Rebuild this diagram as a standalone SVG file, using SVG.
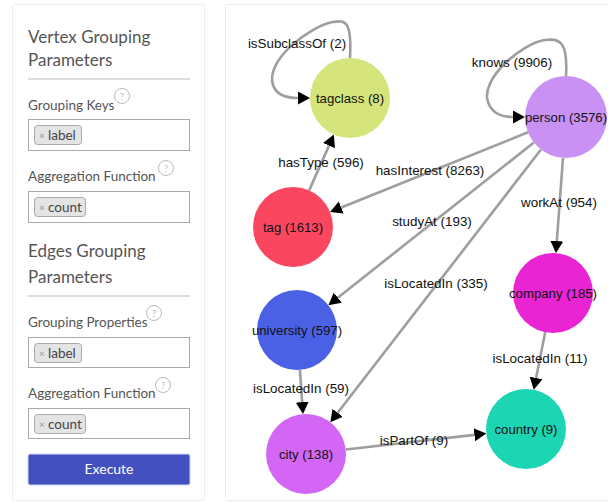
<svg xmlns="http://www.w3.org/2000/svg" width="608" height="502" viewBox="0 0 608 502">
<style>
.card{fill:#fff;stroke:#ececec;stroke-width:1}
.title{font-family:Lato,"Noto Sans",sans-serif;font-size:17px;fill:#555}
.lbl{font-family:Lato,"Noto Sans",sans-serif;font-size:13.5px;fill:#555}
.div{stroke:#bbb;stroke-width:1.2}
.box{fill:#fff;stroke:#aaa;stroke-width:1}
.chip{fill:#e4e4e4;stroke:#aaa;stroke-width:1}
.chipx{font-family:Lato,"Noto Sans",sans-serif;font-size:10px;fill:#999}
.chipt{font-family:Lato,"Noto Sans",sans-serif;font-size:13.5px;fill:#444}
.help{fill:#fff;stroke:#bbb;stroke-width:1}
.helpq{font-family:Lato,"Noto Sans",sans-serif;font-size:9px;fill:#bbb;text-anchor:middle}
.edge{fill:none;stroke:#9e9e9e;stroke-width:2.6;marker-end:url(#arr)}
.el{font-family:"Liberation Sans",Arial,sans-serif;font-size:13.4px;fill:#111;text-anchor:middle}
.nl{font-family:"Liberation Sans",Arial,sans-serif;font-size:13.2px;fill:#111;text-anchor:middle}
</style>
<defs>
<marker id="arr" markerUnits="userSpaceOnUse" markerWidth="14" markerHeight="14" viewBox="0 -7 14 14" refX="0" refY="0" orient="auto">
<path d="M0,-6.5 L12,0 L0,6.5 z" fill="#000"/>
</marker>
</defs>
<rect x="0" y="0" width="608" height="502" fill="#fff"/>

<g id="panel-left">
<rect class="card" x="12.5" y="4.5" width="192" height="496" rx="2"/>
<text class="title" x="28" y="43">Vertex Grouping</text>
<text class="title" x="28" y="66">Parameters</text>
<line class="div" x1="28" y1="79" x2="190" y2="79"/>
<text class="lbl" x="28" y="110">Grouping Keys</text>
<circle class="help" cx="122" cy="96" r="7.5"/><text class="helpq" x="122" y="99.5">?</text>
<rect class="box" x="28.5" y="119.5" width="161" height="31"/>
<rect class="chip" x="34.5" y="125.5" width="47" height="19" rx="3"/>
<text class="chipx" x="39" y="138.5">×</text><text class="chipt" x="48" y="140">label</text>
<text class="lbl" x="28" y="181">Aggregation Function</text>
<circle class="help" cx="166" cy="168" r="7.5"/><text class="helpq" x="166" y="171.5">?</text>
<rect class="box" x="28.5" y="191.5" width="161" height="31"/>
<rect class="chip" x="34.5" y="197.5" width="51" height="19" rx="3"/>
<text class="chipx" x="39" y="210.5">×</text><text class="chipt" x="48" y="212">count</text>

<text class="title" x="28" y="257">Edges Grouping</text>
<text class="title" x="28" y="283">Parameters</text>
<line class="div" x1="28" y1="296" x2="190" y2="296"/>
<text class="lbl" x="28" y="327">Grouping Properties</text>
<circle class="help" cx="154" cy="313" r="7.5"/><text class="helpq" x="154" y="316.5">?</text>
<rect class="box" x="28.5" y="337.5" width="161" height="30"/>
<rect class="chip" x="34.5" y="343.5" width="47" height="19" rx="3"/>
<text class="chipx" x="39" y="356.5">×</text><text class="chipt" x="48" y="358">label</text>
<text class="lbl" x="28" y="398">Aggregation Function</text>
<circle class="help" cx="163" cy="385" r="7.5"/><text class="helpq" x="163" y="388.5">?</text>
<rect class="box" x="28.5" y="408.5" width="161" height="30"/>
<rect class="chip" x="34.5" y="414.5" width="51" height="19" rx="3"/>
<text class="chipx" x="39" y="427.5">×</text><text class="chipt" x="48" y="429">count</text>

<rect x="28" y="454" width="162" height="31" rx="2" fill="#4351c0" stroke="#d3d6f4" stroke-width="1"/>
<text x="109" y="474" font-family="Lato,'Noto Sans',sans-serif" font-size="14px" fill="#fff" text-anchor="middle">Execute</text>
</g>

<g id="panel-right">
<rect class="card" x="225.5" y="4.5" width="400" height="496" rx="2"/>
</g>

<g id="connectors">
<path class="edge" d="M350,58 C352,20 345,20 333,22 C310,26 265,60 273,85 C277,97 290,98 298,98"/>
<path class="edge" d="M566,76 C568,42 560,38 545,40 C520,44 480,80 488,102 C493,116 505,117 513,117"/>
<path class="edge" d="M309.2,190.4 L329,145.6"/>
<path class="edge" d="M528,132.3 L341.2,207.5"/>
<path class="edge" d="M533.9,142.5 L337.8,297.7"/>
<path class="edge" d="M541,149.5 L337.7,412.8"/>
<path class="edge" d="M563,157.9 L556.8,241.1"/>
<path class="edge" d="M545.2,332.2 L536.1,378"/>
<path class="edge" d="M299.9,369.9 L302.2,402.1"/>
<path class="edge" d="M345.7,449.5 L474.4,434.9"/>
<text class="el" x="297" y="48">isSubclassOf (2)</text>
<text class="el" x="512" y="67">knows (9906)</text>
<text class="el" x="321" y="167">hasType (596)</text>
<text class="el" x="430" y="175">hasInterest (8263)</text>
<text class="el" x="432" y="226">studyAt (193)</text>
<text class="el" x="436" y="288">isLocatedIn (335)</text>
<text class="el" x="559" y="207">workAt (954)</text>
<text class="el" x="540" y="363">isLocatedIn (11)</text>
<text class="el" x="301" y="393">isLocatedIn (59)</text>
<text class="el" x="414" y="445">isPartOf (9)</text>
</g>

<g id="node-tagclass"><circle cx="350" cy="98" r="40" fill="#d5e47b"/><text class="nl" x="350" y="102.5">tagclass (8)</text></g>
<g id="node-person"><circle cx="566" cy="117" r="41" fill="#c991f4"/><text class="nl" x="566" y="121.5">person (3576)</text></g>
<g id="node-tag"><circle cx="293" cy="227" r="40" fill="#fb4660"/><text class="nl" x="293" y="231.5">tag (1613)</text></g>
<g id="node-university"><circle cx="297" cy="330" r="40" fill="#4a61e6"/><text class="nl" x="297" y="334.5">university (597)</text></g>
<g id="node-city"><circle cx="306" cy="454" r="40" fill="#d466f5"/><text class="nl" x="306" y="458.5">city (138)</text></g>
<g id="node-company"><circle cx="553" cy="293" r="40" fill="#e824d3"/><text class="nl" x="553" y="297.5">company (185)</text></g>
<g id="node-country"><circle cx="526" cy="429" r="40" fill="#1cd6b3"/><text class="nl" x="526" y="433.5">country (9)</text></g>
</svg>
